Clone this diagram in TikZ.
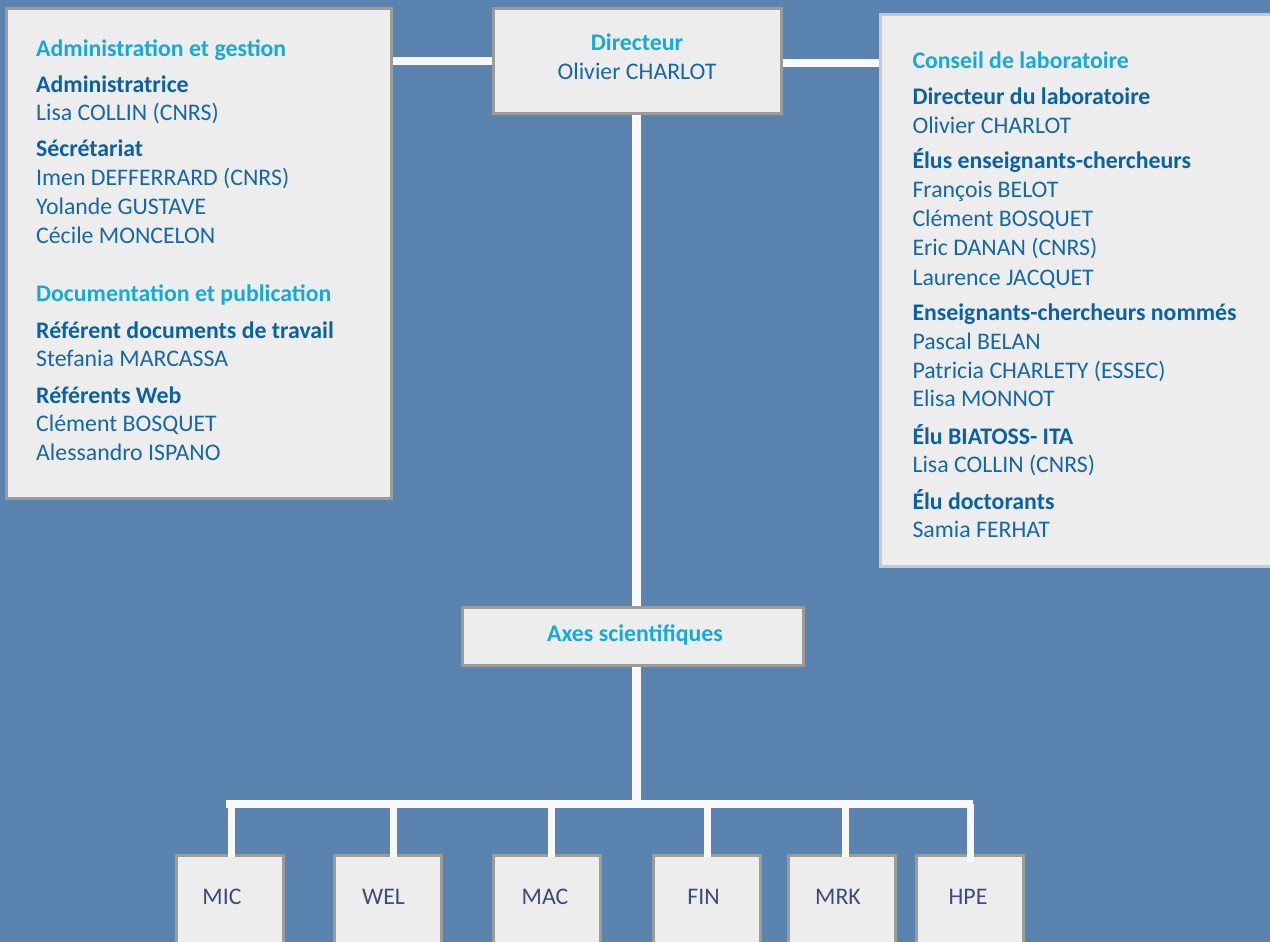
\documentclass[tikz,border=0pt]{standalone}
\usepackage{fontspec}
\setmainfont{Carlito}
\definecolor{bgc}{HTML}{5A84AF}
\definecolor{boxfill}{HTML}{EDEDED}
\definecolor{boxline}{HTML}{9B9B9B}
\definecolor{boxline2}{HTML}{C6C8D2}
\definecolor{headc}{HTML}{17A9D8}
\definecolor{subc}{HTML}{0B62A3}
\definecolor{namec}{HTML}{1767A7}
\definecolor{axc}{HTML}{3D4A7E}
\definecolor{connc}{HTML}{F8F8F8}
\tikzset{
  panel/.style={draw=boxline, line width=3pt, fill=boxfill, inner sep=0pt, anchor=north west},
  hd/.style={text=headc, font=\fontsize{23.8}{28}\selectfont\bfseries, inner sep=0pt, anchor=base west},
  sub/.style={text=subc, font=\fontsize{23.8}{28}\selectfont\bfseries, inner sep=0pt, anchor=base west},
  nm/.style={text=namec, font=\fontsize{23.8}{28}\selectfont, inner sep=0pt, anchor=base west},
  axlab/.style={text=axc, font=\fontsize{23.8}{28}\selectfont, inner sep=0pt, anchor=base},
  conn/.style={draw=connc, line width=8.5pt},
  dropline/.style={draw=connc, line width=7pt},
  axbox/.style={panel, minimum width=107pt, minimum height=120pt},
}
\begin{document}
\begin{tikzpicture}[x=1pt,y=-1pt]
\useasboundingbox (0,0) rectangle (1270,942);
\clip (0,0) rectangle (1270,942);
\fill[bgc] (0,0) rectangle (1270,942);

% main panels
\node[panel, minimum width=385pt, minimum height=490pt] (adm) at (5,7) {};
\node[panel, minimum width=288pt, minimum height=105pt] (dir) at (491.5,6.7) {};
\node[panel, draw=boxline2, minimum width=420pt, minimum height=551.5pt] (cons) at (878.5,13.5) {};
\node[panel, minimum width=341pt, minimum height=58.5pt] (axes) at (461,605.8) {};

% bottom boxes
\node[axbox] (mic) at (174.5,854) {};
\node[axbox] (wel) at (333,854) {};
\node[axbox] (mac) at (492,854) {};
\node[axbox] (fin) at (651.5,854) {};
\node[axbox] (mrk) at (787,854) {};
\node[axbox] (hpe) at (915,854) {};

% connectors
\draw[conn, line width=8pt] (dir.west) -- (dir.west -| adm.east);
\draw[conn] ([yshift=-2.3pt]dir.east) -- ([yshift=-2.3pt]dir.east -| cons.west);
\draw[conn, line width=9pt] ([xshift=-0.4pt]dir.south) -- ([xshift=-0.4pt]dir.south |- axes.north);
\coordinate (busL) at (226,804);
\coordinate (busR) at (972.5,804);
\draw[conn, line width=9pt] ([xshift=-0.4pt]dir.south |- axes.south) -- ([xshift=-0.4pt]dir.south |- busL);
\draw[conn, line width=8pt] (busL) -- (busR);
\draw[dropline] ([xshift=2pt]mic.north |- busL) -- ([xshift=2pt,yshift=-3pt]mic.north);
\draw[dropline] ([xshift=5pt]wel.north |- busL) -- ([xshift=5pt,yshift=-3pt]wel.north);
\draw[dropline] ([xshift=4pt]mac.north |- busL) -- ([xshift=4pt,yshift=-3pt]mac.north);
\draw[dropline] ([xshift=0.5pt]fin.north |- busL) -- ([xshift=0.5pt,yshift=-3pt]fin.north);
\draw[dropline] ([xshift=3.5pt]mrk.north |- busL) -- ([xshift=3.5pt,yshift=-3pt]mrk.north);
\draw[dropline] ([xshift=0.5pt]hpe.north |- busL) -- ([xshift=0.5pt,yshift=-8pt]hpe.north);

% bottom labels
\node[axlab] (micl) at (222,904) {MIC};
\node[axlab] (well) at (383.5,904) {WEL};
\node[axlab] (macl) at (545,904) {MAC};
\node[axlab] (finl) at (703.5,904) {FIN};
\node[axlab] (mrkl) at (838,904) {MRK};
\node[axlab] (hpel) at (968,904) {HPE};

% director
\node[hd, anchor=base] (dirt) at (637,50.7) {Directeur};
\node[nm, anchor=base] (dirn) at (637,80) {Olivier CHARLOT};

% axes
\node[hd, anchor=base] (axt) at (635,641.7) {Axes scientifiques};

% left panel text
\node[hd]  (a1)  at (36,56.7)  {Administration et gestion};
\node[sub] (a2)  at (36,92.7)  {Administratrice};
\node[nm]  (a3)  at (36,120.5) {Lisa COLLIN (CNRS)};
\node[sub] (a4)  at (36,156.7) {Sécrétariat};
\node[nm]  (a5)  at (36,185.7) {Imen DEFFERRARD (CNRS)};
\node[nm]  (a6)  at (36,214.5) {Yolande GUSTAVE};
\node[nm]  (a7)  at (36,243.3) {Cécile MONCELON};
\node[hd]  (a8)  at (36,301.7) {Documentation et publication};
\node[sub] (a9)  at (36,338.3) {Référent documents de travail};
\node[nm]  (a10) at (36,366)   {Stefania MARCASSA};
\node[sub] (a11) at (36,403.3) {Référents Web};
\node[nm]  (a12) at (36,431.7) {Clément BOSQUET};
\node[nm]  (a13) at (36,460)   {Alessandro ISPANO};

% right panel text
\node[hd]  (c1)  at (912.3,68.3)  {Conseil de laboratoire};
\node[sub] (c2)  at (912.3,104.3) {Directeur du laboratoire};
\node[nm]  (c3)  at (912.3,133.3) {Olivier CHARLOT};
\node[sub] (c4)  at (912.3,168.3) {Élus enseignants-chercheurs};
\node[nm]  (c5)  at (912.3,197.5) {François BELOT};
\node[nm]  (c6)  at (912.3,226.7) {Clément BOSQUET};
\node[nm]  (c7)  at (912.3,255.7) {Eric DANAN (CNRS)};
\node[nm]  (c8)  at (912.3,285)   {Laurence JACQUET};
\node[sub] (c9)  at (912.3,320.7) {Enseignants-chercheurs nommés};
\node[nm]  (c10) at (912.3,349.3) {Pascal BELAN};
\node[nm]  (c11) at (912.3,378.3) {Patricia CHARLETY (ESSEC)};
\node[nm]  (c12) at (912.3,406.7) {Elisa MONNOT};
\node[sub] (c13) at (912.3,444)   {Élu BIATOSS- ITA};
\node[nm]  (c14) at (912.3,472.7) {Lisa COLLIN (CNRS)};
\node[sub] (c15) at (912.3,509)   {Élu doctorants};
\node[nm]  (c16) at (912.3,537.3) {Samia FERHAT};
\end{tikzpicture}
\end{document}
